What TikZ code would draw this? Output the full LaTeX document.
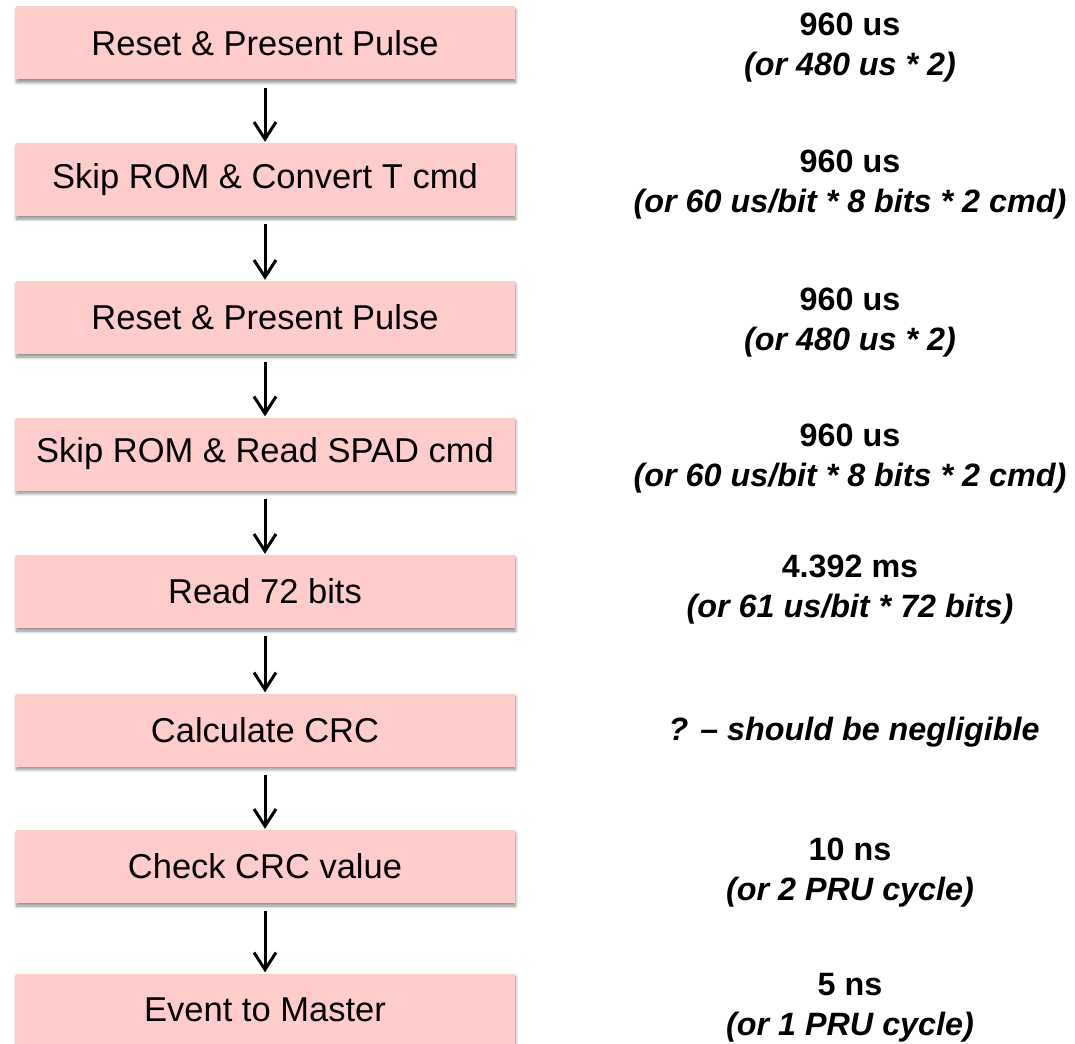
\documentclass[tikz,border=0pt]{standalone}
\usepackage{fontspec}
\setmainfont{Liberation Sans}
\usetikzlibrary{arrows.meta,shadows.blur}

\definecolor{boxpink}{RGB}{255,204,204}

\tikzset{
  stepbox/.style={
    rectangle, fill=boxpink, draw=none,
    minimum width=499pt, minimum height=73pt, inner sep=0pt,
    font=\fontsize{34.5}{40}\selectfont,
    blur shadow={shadow xshift=1pt, shadow yshift=-3pt,
      shadow blur radius=3pt, shadow blur steps=8, shadow opacity=45}
  },
  timing/.style={
    align=center, inner sep=0pt,
    font=\fontsize{32.3}{40}\selectfont\bfseries
  },
  flow/.style={
    line width=3pt,
    -{Straight Barb[length=17pt,width=22pt,line width=3pt]},
    shorten >=1pt
  }
}

\begin{document}
\begin{tikzpicture}[x=1pt,y=-1pt]
  \useasboundingbox (0,0) rectangle (1075,1043);

  % processing steps
  \node[stepbox] (b1) at (265,43)    {Reset \& Present Pulse};
  \node[stepbox] (b2) at (265,179.5) {Skip ROM \& Convert T cmd};
  \node[stepbox] (b3) at (265,317.5) {Reset \& Present Pulse};
  \node[stepbox] (b4) at (265,454)   {Skip ROM \& Read SPAD cmd};
  \node[stepbox] (b5) at (265,591.5) {Read 72 bits};
  \node[stepbox] (b6) at (265,730)   {Calculate CRC};
  \node[stepbox] (b7) at (265,866.5) {Check CRC value};
  \node[stepbox] (b8) at (265,1010)  {Event to Master};

  % flow between steps
  \foreach \a/\b in {b1/b2,b2/b3,b3/b4,b4/b5,b5/b6,b6/b7,b7/b8}
    \draw[flow] ([yshift=-8pt]\a.south) -- (\b.north);

  % duration of each step
  \node[timing] (t1) at (850,48)   {960 us\\\itshape (or 480 us * 2)};
  \node[timing] (t2) at (850,185)  {960 us\\\itshape (or 60 us/bit * 8 bits * 2 cmd)};
  \node[timing] (t3) at (850,323)  {960 us\\\itshape (or 480 us * 2)};
  \node[timing] (t4) at (850,459)  {960 us\\\itshape (or 60 us/bit * 8 bits * 2 cmd)};
  \node[timing] (t5) at (850,590)  {4.392 ms\\\itshape (or 61 us/bit * 72 bits)};
  \node[timing] (t6) at (854,732)  {\itshape ? – should be negligible};
  \node[timing] (t7) at (850,873)  {10 ns\\\itshape (or 2 PRU cycle)};
  \node[timing] (t8) at (850,1008) {5 ns\\\itshape (or 1 PRU cycle)};
\end{tikzpicture}
\end{document}
